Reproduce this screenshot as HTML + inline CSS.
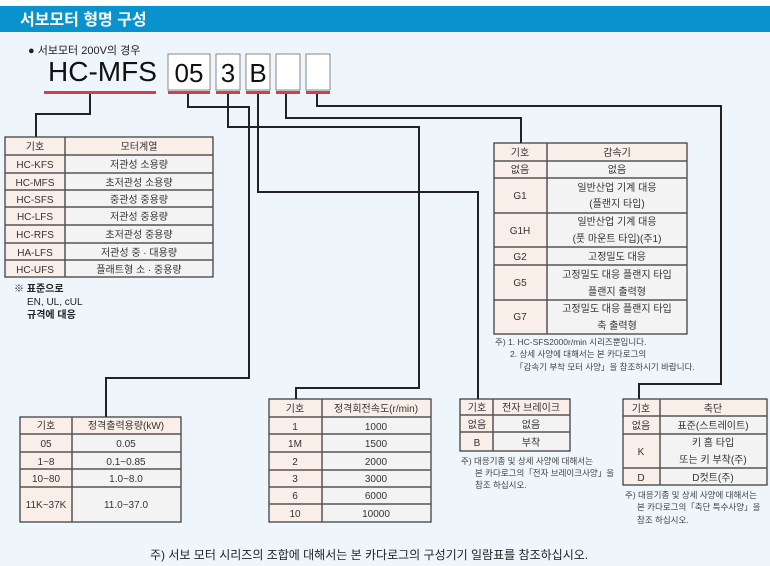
<!DOCTYPE html>
<html><head><meta charset="utf-8"><style>
html,body{margin:0;padding:0;background:#eef5fb;}
svg{display:block;font-family:"Liberation Sans","Noto Sans CJK KR",sans-serif;}
.c{font-size:10px;fill:#333;text-anchor:middle;}
.n{font-size:8.5px;fill:#444;}
.p{fill:#faeee9;}
.g{fill:#f3f3f3;}
.b{fill:none;stroke:#333;stroke-width:1.2;}
.s{stroke:#555;stroke-width:1.5;}
.w{fill:none;stroke:#222;stroke-width:2;}
</style></head><body>
<svg width="770" height="566" viewBox="0 0 770 566" xmlns="http://www.w3.org/2000/svg">
<rect x="0" y="0" width="770" height="566" fill="#eef5fb"/>
<rect x="0" y="0" width="770" height="5" fill="#fff"/>
<rect x="0" y="6" width="770" height="26" fill="#0a92cc"/>
<text x="20" y="25" font-size="16" font-weight="bold" fill="#fff">서보모터 형명 구성</text>
<text x="28" y="54" font-size="11" fill="#222">● 서보모터 200V의 경우</text>
<text x="48" y="81" font-size="28" fill="#111">HC-MFS</text>
<g fill="#fff" stroke="#888" stroke-width="1">
<rect x="168" y="54" width="42" height="36"/><rect x="216" y="54" width="24" height="36"/><rect x="246" y="54" width="24" height="36"/><rect x="276" y="54" width="24" height="36"/><rect x="306" y="54" width="24" height="36"/></g>
<g font-size="26" fill="#111" text-anchor="middle"><text x="189" y="82">05</text><text x="228" y="82">3</text><text x="258" y="82">B</text></g>
<g fill="#d0404a"><rect x="44" y="91" width="112" height="3"/><rect x="168" y="91" width="42" height="3"/><rect x="216" y="91" width="24" height="3"/><rect x="246" y="91" width="24" height="3"/><rect x="276" y="91" width="24" height="3"/><rect x="306" y="91" width="24" height="3"/></g>
<!-- connectors -->
<polyline class="w" points="90,94 90,114 36,114 36,137"/>
<polyline class="w" points="188,94 188,107 249,107 249,378 106,378 106,417"/>
<polyline class="w" points="228,94 228,127 419,127 419,388 296,388 296,399"/>
<polyline class="w" points="258,94 258,192 478,192 478,399"/>
<polyline class="w" points="286,94 286,118 521,118 521,143"/>
<polyline class="w" points="317,94 317,106 721,106 721,384 639,384 639,399"/>
<!-- left table -->
<rect class="p" x="5" y="137" width="208" height="18"/>
<rect class="p" x="5" y="155" width="60" height="122"/><rect class="g" x="65" y="155" width="148" height="122"/>
<rect class="b" x="5" y="137" width="208" height="140"/>
<g class="s"><line x1="5" y1="155" x2="213" y2="155"/><line x1="5" y1="173" x2="213" y2="173"/><line x1="5" y1="190" x2="213" y2="190"/><line x1="5" y1="207" x2="213" y2="207"/><line x1="5" y1="225" x2="213" y2="225"/><line x1="5" y1="243" x2="213" y2="243"/><line x1="5" y1="260" x2="213" y2="260"/><line x1="65" y1="137" x2="65" y2="277"/></g>
<g class="c"><text x="35" y="150">기호</text><text x="139" y="150">모터계열</text>
<text x="35" y="168">HC-KFS</text><text x="139" y="168">저관성 소용량</text>
<text x="35" y="186">HC-MFS</text><text x="139" y="186">초저관성 소용량</text>
<text x="35" y="203">HC-SFS</text><text x="139" y="203">중관성 중용량</text>
<text x="35" y="220">HC-LFS</text><text x="139" y="220">저관성 중용량</text>
<text x="35" y="238">HC-RFS</text><text x="139" y="238">초저관성 중용량</text>
<text x="35" y="256">HA-LFS</text><text x="139" y="256">저관성 중 · 대용량</text>
<text x="35" y="273">HC-UFS</text><text x="139" y="273">플래트형 소 · 중용량</text></g>
<g font-size="10" fill="#222" font-weight="bold"><text x="14" y="292">※ 표준으로</text><text x="27" y="305" font-weight="normal">EN, UL, cUL</text><text x="27" y="318">규격에 대응</text></g>
<!-- 감속기 -->
<rect class="p" x="494" y="143" width="193" height="18"/>
<rect class="p" x="494" y="161" width="53" height="173"/><rect class="g" x="547" y="161" width="140" height="173"/>
<rect class="b" x="494" y="143" width="193" height="191"/>
<g class="s"><line x1="494" y1="161" x2="687" y2="161"/><line x1="494" y1="178" x2="687" y2="178"/><line x1="494" y1="213" x2="687" y2="213"/><line x1="494" y1="247" x2="687" y2="247"/><line x1="494" y1="265" x2="687" y2="265"/><line x1="494" y1="300" x2="687" y2="300"/><line x1="547" y1="143" x2="547" y2="334"/></g>
<g class="c"><text x="520" y="156">기호</text><text x="617" y="156">감속기</text>
<text x="520" y="173">없음</text><text x="617" y="173">없음</text>
<text x="520" y="199">G1</text><text x="617" y="191">일반산업 기계 대응</text><text x="617" y="207">(플랜지 타입)</text>
<text x="520" y="234">G1H</text><text x="617" y="225">일반산업 기계 대응</text><text x="617" y="242">(풋 마운트 타입)(주1)</text>
<text x="520" y="260">G2</text><text x="617" y="260">고정밀도 대응</text>
<text x="520" y="286">G5</text><text x="617" y="278">고정밀도 대응 플랜지 타입</text><text x="617" y="295">플랜지 출력형</text>
<text x="520" y="320">G7</text><text x="617" y="312">고정밀도 대응 플랜지 타입</text><text x="617" y="329">축 출력형</text></g>
<g class="n"><text x="495" y="345">주)  1. HC-SFS2000r/min 시리즈뿐입니다.</text><text x="510" y="357">2. 상세 사양에 대해서는 본 카다로그의</text><text x="515" y="370">「감속기 부착 모터 사양」을 참조하시기 바랍니다.</text></g>
<!-- kW table -->
<rect class="p" x="20" y="417" width="161" height="17"/>
<rect class="p" x="20" y="434" width="52" height="88"/><rect class="g" x="72" y="434" width="109" height="88"/>
<rect class="b" x="20" y="417" width="161" height="105"/>
<g class="s"><line x1="20" y1="434" x2="181" y2="434"/><line x1="20" y1="452" x2="181" y2="452"/><line x1="20" y1="469" x2="181" y2="469"/><line x1="20" y1="487" x2="181" y2="487"/><line x1="72" y1="417" x2="72" y2="522"/></g>
<g class="c"><text x="46" y="429">기호</text><text x="126" y="429">정격출력용량(kW)</text>
<text x="46" y="447">05</text><text x="126" y="447">0.05</text>
<text x="46" y="465">1~8</text><text x="126" y="465">0.1~0.85</text>
<text x="46" y="482">10~80</text><text x="126" y="482">1.0~8.0</text>
<text x="46" y="508">11K~37K</text><text x="126" y="508">11.0~37.0</text></g>
<!-- speed table -->
<rect class="p" x="269" y="399" width="162" height="18"/>
<rect class="p" x="269" y="417" width="53" height="105"/><rect class="g" x="322" y="417" width="109" height="105"/>
<rect class="b" x="269" y="399" width="162" height="123"/>
<g class="s"><line x1="269" y1="417" x2="431" y2="417"/><line x1="269" y1="434" x2="431" y2="434"/><line x1="269" y1="452" x2="431" y2="452"/><line x1="269" y1="470" x2="431" y2="470"/><line x1="269" y1="487" x2="431" y2="487"/><line x1="269" y1="504" x2="431" y2="504"/><line x1="322" y1="399" x2="322" y2="522"/></g>
<g class="c"><text x="295" y="412">기호</text><text x="376" y="412">정격회전속도(r/min)</text>
<text x="295" y="430">1</text><text x="376" y="430">1000</text>
<text x="295" y="447">1M</text><text x="376" y="447">1500</text>
<text x="295" y="465">2</text><text x="376" y="465">2000</text>
<text x="295" y="482">3</text><text x="376" y="482">3000</text>
<text x="295" y="499">6</text><text x="376" y="499">6000</text>
<text x="295" y="517">10</text><text x="376" y="517">10000</text></g>
<!-- brake -->
<rect class="p" x="460" y="399" width="110" height="16"/>
<rect class="p" x="460" y="415" width="33" height="36"/><rect class="g" x="493" y="415" width="77" height="36"/>
<rect class="b" x="460" y="399" width="110" height="52"/>
<g class="s"><line x1="460" y1="415" x2="570" y2="415"/><line x1="460" y1="432" x2="570" y2="432"/><line x1="493" y1="399" x2="493" y2="451"/></g>
<g class="c"><text x="477" y="411">기호</text><text x="531" y="411">전자 브레이크</text>
<text x="477" y="428">없음</text><text x="531" y="428">없음</text>
<text x="477" y="446">B</text><text x="531" y="446">부착</text></g>
<g class="n"><text x="461" y="464">주) 대응기종 및 상세 사양에 대해서는</text><text x="475" y="476">본 카다로그의「전자 브레이크사양」을</text><text x="475" y="488">참조 하십시오.</text></g>
<!-- shaft -->
<rect class="p" x="623" y="399" width="144" height="17"/>
<rect class="p" x="623" y="416" width="37" height="69"/><rect class="g" x="660" y="416" width="107" height="69"/>
<rect class="b" x="623" y="399" width="144" height="86"/>
<g class="s"><line x1="623" y1="416" x2="767" y2="416"/><line x1="623" y1="434" x2="767" y2="434"/><line x1="623" y1="468" x2="767" y2="468"/><line x1="660" y1="399" x2="660" y2="485"/></g>
<g class="c"><text x="641" y="412">기호</text><text x="713" y="412">축단</text>
<text x="641" y="429">없음</text><text x="713" y="429">표준(스트레이트)</text>
<text x="641" y="455">K</text><text x="713" y="446">키 홈 타입</text><text x="713" y="463">또는 키 부착(주)</text>
<text x="641" y="481">D</text><text x="713" y="481">D컷트(주)</text></g>
<g class="n"><text x="625" y="498">주) 대응기종 및 상세 사양에 대해서는</text><text x="637" y="510">본 카다로그의「축단 특수사양」을</text><text x="637" y="523">참조 하십시오.</text></g>
<text x="150" y="559" font-size="12" fill="#222">주) 서보 모터 시리즈의 조합에 대해서는 본 카다로그의 구성기기 일람표를 참조하십시오.</text>
</svg>
</body></html>
